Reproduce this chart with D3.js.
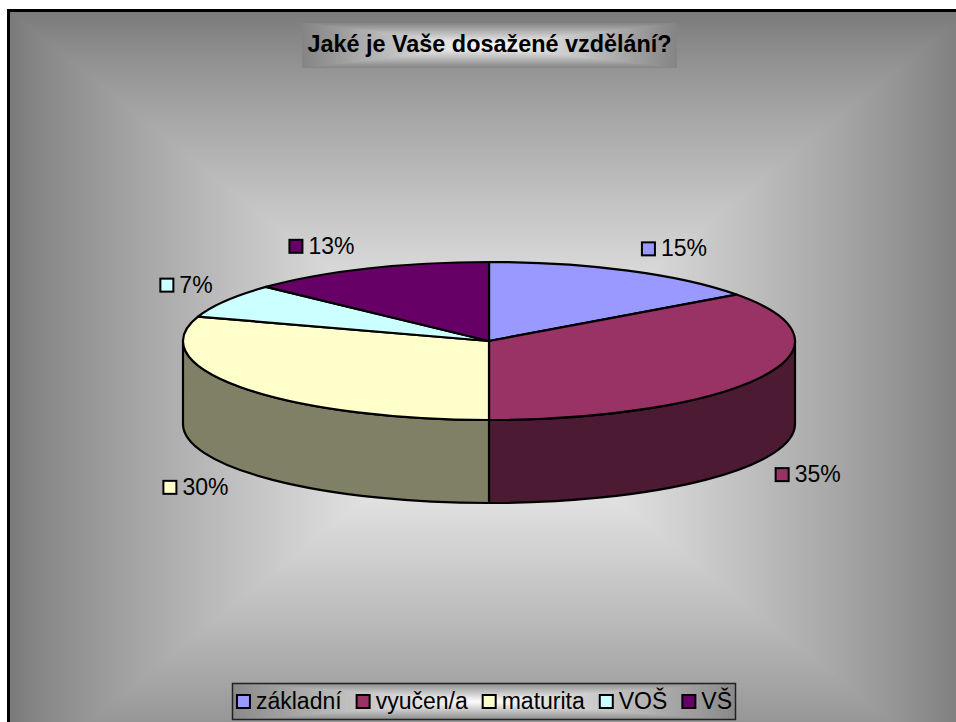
<!DOCTYPE html>
<html>
<head>
<meta charset="utf-8">
<script src="https://cdn.jsdelivr.net/npm/d3@7"></script>
<style>
  body { margin: 0; background: #ffffff; }
  svg { display: block; }
  text { font-family: "Liberation Sans", Arial, sans-serif; fill: #000; }
</style>
</head>
<body>
<svg id="chart" width="956" height="722"></svg>
<script>
// Survey: highest completed education
const categories = ["základní", "vyučen/a", "maturita", "VOŠ", "VŠ"];
const shares = [15, 35, 30, 7, 13];
const topColors = ["#9999FF", "#993366", "#FFFFCC", "#CCFFFF", "#660066"];
const chartTitle = "Jaké je Vaše dosažené vzdělání?";

const svg = d3.select("#chart");

// Rectangular "from centre" gradient drawn as nested rings
function boxGradient(g, x0, y0, x1, y1, cx, cy, edge, centre, steps, gamma = 1) {
  const mix = d3.interpolateRgb(edge, centre);
  const rings = d3.range(steps + 1).map(i => i / steps);
  g.selectAll("rect").data(rings).join("rect")
    .attr("x", f => x0 + f * (cx - x0))
    .attr("y", f => y0 + f * (cy - y0))
    .attr("width", f => (x1 - x0) * (1 - f) + 0.01)
    .attr("height", f => (y1 - y0) * (1 - f) + 0.01)
    .attr("fill", f => mix(Math.pow(f, gamma)))
    .attr("shape-rendering", "crispEdges");
}

// Chart area
const plotArea = { x0: 10, y0: 12, x1: 970, y1: 785 };
boxGradient(svg.append("g"), plotArea.x0, plotArea.y0, plotArea.x1, plotArea.y1,
  (plotArea.x0 + plotArea.x1) / 2, (plotArea.y0 + plotArea.y1) / 2, "#7a7a7a", "#ffffff", 240, 0.85);
svg.append("rect")
  .attr("x", 8.5).attr("y", 10.5)
  .attr("width", 963).attr("height", 780)
  .attr("fill", "none").attr("stroke", "#000").attr("stroke-width", 3);

// Title
const tBox = { x0: 302, y0: 23, x1: 677, y1: 68 };
boxGradient(svg.append("g"), tBox.x0, tBox.y0, tBox.x1, tBox.y1,
  (tBox.x0 + tBox.x1) / 2, (tBox.y0 + tBox.y1) / 2, "#858585", "#ffffff", 60);
svg.append("text")
  .attr("x", (tBox.x0 + tBox.x1) / 2).attr("y", 52)
  .attr("text-anchor", "middle")
  .style("font-size", "23.4px").style("font-weight", "bold")
  .text(chartTitle);

// 3D pie
const pcx = 489, pcy = 341, rx = 306, ry = 79, depth = 83;
const color = d3.scaleOrdinal().domain(categories).range(topColors);
const sideColor = c => { const k = d3.rgb(c); return d3.rgb(k.r * 0.5, k.g * 0.5, k.b * 0.5).formatHex(); };

const arcs = d3.pie().sort(null).value(d => d.v)
  (categories.map((c, i) => ({ c, v: shares[i] })));

const rimPoint = (a, dy = 0) => [pcx + rx * Math.sin(a), pcy - ry * Math.cos(a) + dy];

const pieLayer = svg.append("g");

// visible outer wall (front half)
arcs.forEach(d => {
  const s0 = Math.max(d.startAngle, Math.PI / 2);
  const s1 = Math.min(d.endAngle, 3 * Math.PI / 2);
  if (s0 >= s1) return;
  const a = rimPoint(s0), b = rimPoint(s1), bb = rimPoint(s1, depth), ab = rimPoint(s0, depth);
  const large = (s1 - s0) > Math.PI ? 1 : 0;
  const dStr = `M${a}A${rx},${ry} 0 ${large} 1 ${b}L${bb}A${rx},${ry} 0 ${large} 0 ${ab}Z`;
  pieLayer.append("path")
    .attr("d", dStr)
    .attr("fill", sideColor(color(d.data.c)))
    .attr("stroke", "#000").attr("stroke-width", 2.2)
    .attr("stroke-linejoin", "round");
});

// top face: circular arcs squashed into an ellipse
const arcGen = d3.arc().innerRadius(0).outerRadius(rx);
const topFace = pieLayer.append("g")
  .attr("transform", `translate(${pcx},${pcy}) scale(1,${ry / rx})`);
topFace.selectAll("path").data(arcs).join("path")
  .attr("d", arcGen)
  .attr("fill", d => color(d.data.c))
  .attr("stroke", "#000").attr("stroke-width", 2.2)
  .attr("stroke-linejoin", "round")
  .attr("vector-effect", "non-scaling-stroke");

// Data labels with colour keys, placed off the rim
const labelFont = 23, keySize = 15, keyGap = 5;
const labelLayer = svg.append("g");
arcs.forEach(d => {
  const m = (d.startAngle + d.endAngle) / 2;
  const s = Math.sin(m), c = Math.cos(m);
  const rim = rimPoint(m, c < 0 ? depth : 0);
  const ax = rim[0] + 13 * Math.sign(s);
  const ay = rim[1] - 16 * c;
  const g = labelLayer.append("g");
  const txt = g.append("text")
    .style("font-size", labelFont + "px")
    .text(d.data.v + "%");
  const tw = txt.node().getComputedTextLength();
  const w = keySize + keyGap + tw;
  const left = s >= 0 ? ax : ax - w;
  const bottom = c >= 0 ? ay : ay + keySize;
  g.append("rect")
    .attr("x", left + 1).attr("y", bottom - keySize + 1)
    .attr("width", keySize - 2).attr("height", keySize - 2)
    .attr("fill", color(d.data.c))
    .attr("stroke", "#000").attr("stroke-width", 2);
  txt.attr("x", left + keySize + keyGap).attr("y", bottom);
});

// Legend
const lBox = { x0: 232, y0: 683, x1: 736, y1: 720 };
const legendLayer = svg.append("g");
boxGradient(legendLayer.append("g"), lBox.x0, lBox.y0, lBox.x1, lBox.y1,
  (lBox.x0 + lBox.x1) / 2, (lBox.y0 + lBox.y1) / 2, "#8a8a8a", "#ffffff", 60);
legendLayer.append("rect")
  .attr("x", lBox.x0 + 0.5).attr("y", lBox.y0 + 0.5)
  .attr("width", lBox.x1 - lBox.x0 - 1).attr("height", lBox.y1 - lBox.y0 - 1)
  .attr("fill", "none").attr("stroke", "#222").attr("stroke-width", 1.5);

const items = legendLayer.append("g");
const itemGap = 14;
let cursor = 0;
categories.forEach(c => {
  const it = items.append("g").attr("transform", `translate(${cursor},0)`);
  it.append("rect")
    .attr("x", 1).attr("y", 709 - keySize + 1)
    .attr("width", keySize - 2).attr("height", keySize - 2)
    .attr("fill", color(c)).attr("stroke", "#000").attr("stroke-width", 2);
  const t = it.append("text")
    .attr("x", keySize + keyGap).attr("y", 709)
    .style("font-size", "23px")
    .text(c);
  cursor += keySize + keyGap + t.node().getComputedTextLength() + itemGap;
});
const total = cursor - itemGap;
items.attr("transform", `translate(${(lBox.x0 + lBox.x1) / 2 - total / 2},0)`);
</script>
</body>
</html>
